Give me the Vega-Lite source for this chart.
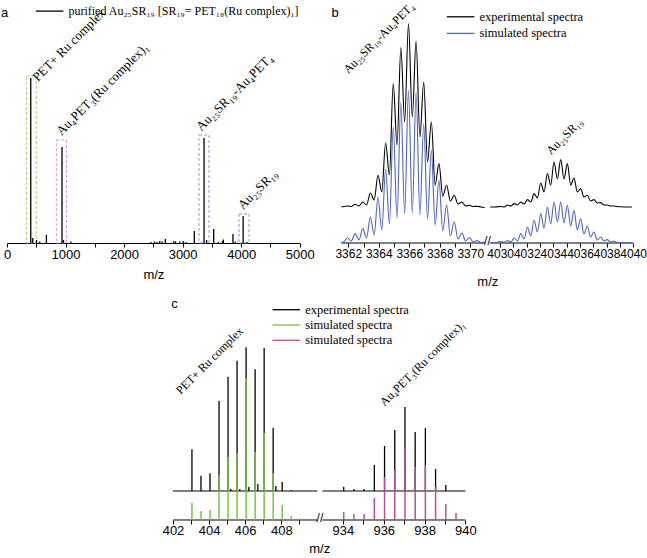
{
"$schema": "https://vega.github.io/schema/vega-lite/v6.json",
"background": "white",
"padding": {"left": 1, "top": 0, "right": 0, "bottom": 0},
"datasets": {
"aSpikes": [
{"mz":406,"h":165},{"mz":440,"h":5},{"mz":505,"h":3},{"mz":560,"h":1.5},{"mz":673,"h":8},{"mz":940,"h":96},{"mz":965,"h":3},{"mz":1090,"h":1.5},
{"mz":2460,"h":1},{"mz":2520,"h":1.5},{"mz":2565,"h":1},{"mz":2610,"h":2},{"mz":2650,"h":1.5},{"mz":2705,"h":4},{"mz":2850,"h":2},{"mz":2880,"h":1.5},{"mz":2950,"h":1.5},{"mz":3010,"h":2},{"mz":3060,"h":1},
{"mz":3200,"h":12},{"mz":3366,"h":105},{"mz":3410,"h":3},{"mz":3531,"h":14},{"mz":3610,"h":1},{"mz":3680,"h":2},{"mz":3696,"h":3.5},{"mz":3860,"h":9},{"mz":3900,"h":1.5},{"mz":4034,"h":27},{"mz":4100,"h":1}
],
"aBoxes": [
{"box":"green","start":330,"end":500,"top":167},
{"box":"pink","start":843,"end":1015,"top":103},
{"box":"blue","start":3280,"end":3450,"top":108},
{"box":"blue","start":3963,"end":4134,"top":29}
],
"aLabels": [
{"mz":524,"h":161,"label":"PET+ Ru complex"},
{"mz":929,"h":107,"label":"Au₄PET₃(Ru complex)₁"},
{"mz":3320,"h":111.5,"label":"Au₂₅SR₁₉-Au₄PET₄"},
{"mz":4031,"h":33,"label":"Au₂₅SR₁₉"}
],
"bExp": [
{"g":"L","x":3361.55,"y":36},{"g":"L","x":3361.7,"y":36.5},{"g":"L","x":3361.95,"y":37},{"g":"L","x":3362.2,"y":36.5},{"g":"L","x":3362.45,"y":38.7},{"g":"L","x":3362.7,"y":37},{"g":"L","x":3362.95,"y":41},{"g":"L","x":3363.2,"y":38},{"g":"L","x":3363.45,"y":50},{"g":"L","x":3363.7,"y":43},{"g":"L","x":3363.95,"y":67.7},{"g":"L","x":3364.2,"y":51},{"g":"L","x":3364.45,"y":100},{"g":"L","x":3364.7,"y":68},{"g":"L","x":3364.95,"y":159.4},{"g":"L","x":3365.2,"y":98},{"g":"L","x":3365.45,"y":195.4},{"g":"L","x":3365.7,"y":121},{"g":"L","x":3365.95,"y":219.4},{"g":"L","x":3366.2,"y":126},{"g":"L","x":3366.45,"y":202},{"g":"L","x":3366.7,"y":106},{"g":"L","x":3366.95,"y":161},{"g":"L","x":3367.2,"y":81},{"g":"L","x":3367.45,"y":121},{"g":"L","x":3367.7,"y":58},{"g":"L","x":3367.95,"y":79.4},{"g":"L","x":3368.2,"y":47},{"g":"L","x":3368.45,"y":57.7},{"g":"L","x":3368.7,"y":42},{"g":"L","x":3368.95,"y":47.7},{"g":"L","x":3369.2,"y":39},{"g":"L","x":3369.45,"y":41},{"g":"L","x":3369.7,"y":37},{"g":"L","x":3369.95,"y":37.7},{"g":"L","x":3370.2,"y":36.5},{"g":"L","x":3370.45,"y":36.8},{"g":"L","x":3370.7,"y":36},{"g":"L","x":3370.95,"y":35.5},
{"g":"R","x":4029.25,"y":36},{"g":"R","x":4029.5,"y":36},{"g":"R","x":4029.8,"y":36.3},{"g":"R","x":4030.05,"y":36.5},{"g":"R","x":4030.3,"y":36},{"g":"R","x":4030.55,"y":38},{"g":"R","x":4030.8,"y":37},{"g":"R","x":4031.05,"y":39.4},{"g":"R","x":4031.3,"y":38},{"g":"R","x":4031.55,"y":41},{"g":"R","x":4031.8,"y":39},{"g":"R","x":4032.05,"y":43.4},{"g":"R","x":4032.3,"y":41},{"g":"R","x":4032.55,"y":49.4},{"g":"R","x":4032.8,"y":45},{"g":"R","x":4033.05,"y":60},{"g":"R","x":4033.3,"y":51},{"g":"R","x":4033.55,"y":69.4},{"g":"R","x":4033.8,"y":58},{"g":"R","x":4034.05,"y":81},{"g":"R","x":4034.3,"y":64},{"g":"R","x":4034.55,"y":83.4},{"g":"R","x":4034.8,"y":64},{"g":"R","x":4035.05,"y":79.4},{"g":"R","x":4035.3,"y":58},{"g":"R","x":4035.55,"y":65},{"g":"R","x":4035.8,"y":51},{"g":"R","x":4036.05,"y":54.4},{"g":"R","x":4036.3,"y":46},{"g":"R","x":4036.55,"y":47.7},{"g":"R","x":4036.8,"y":42},{"g":"R","x":4037.05,"y":43.4},{"g":"R","x":4037.3,"y":40},{"g":"R","x":4037.55,"y":40.4},{"g":"R","x":4037.8,"y":38},{"g":"R","x":4038.05,"y":38},{"g":"R","x":4038.3,"y":37},{"g":"R","x":4038.55,"y":37},{"g":"R","x":4038.8,"y":36.5},{"g":"R","x":4039.1,"y":36.2},{"g":"R","x":4039.5,"y":36},{"g":"R","x":4039.9,"y":36}
],
"bSim": [
{"g":"L","x":3361.55,"y":0.5},{"g":"L","x":3361.7,"y":1},{"g":"L","x":3361.95,"y":5},{"g":"L","x":3362.2,"y":2},{"g":"L","x":3362.45,"y":9.4},{"g":"L","x":3362.7,"y":3},{"g":"L","x":3362.95,"y":14.4},{"g":"L","x":3363.2,"y":5},{"g":"L","x":3363.45,"y":26},{"g":"L","x":3363.7,"y":8},{"g":"L","x":3363.95,"y":46},{"g":"L","x":3364.2,"y":13},{"g":"L","x":3364.45,"y":74},{"g":"L","x":3364.7,"y":19},{"g":"L","x":3364.95,"y":116},{"g":"L","x":3365.2,"y":25},{"g":"L","x":3365.45,"y":141},{"g":"L","x":3365.7,"y":29},{"g":"L","x":3365.95,"y":153},{"g":"L","x":3366.2,"y":30},{"g":"L","x":3366.45,"y":151},{"g":"L","x":3366.7,"y":28},{"g":"L","x":3366.95,"y":119},{"g":"L","x":3367.2,"y":24},{"g":"L","x":3367.45,"y":93},{"g":"L","x":3367.7,"y":18},{"g":"L","x":3367.95,"y":63},{"g":"L","x":3368.2,"y":12},{"g":"L","x":3368.45,"y":38},{"g":"L","x":3368.7,"y":7},{"g":"L","x":3368.95,"y":21},{"g":"L","x":3369.2,"y":4},{"g":"L","x":3369.45,"y":10},{"g":"L","x":3369.7,"y":2},{"g":"L","x":3369.95,"y":5.5},{"g":"L","x":3370.2,"y":1},{"g":"L","x":3370.45,"y":2.5},{"g":"L","x":3370.7,"y":0.5},{"g":"L","x":3370.95,"y":1},
{"g":"R","x":4029.25,"y":0.5},{"g":"R","x":4029.55,"y":0.5},{"g":"R","x":4029.8,"y":0.8},{"g":"R","x":4030.05,"y":1.5},{"g":"R","x":4030.3,"y":0.8},{"g":"R","x":4030.55,"y":2.5},{"g":"R","x":4030.8,"y":1},{"g":"R","x":4031.05,"y":5},{"g":"R","x":4031.3,"y":2},{"g":"R","x":4031.55,"y":9.4},{"g":"R","x":4031.8,"y":4},{"g":"R","x":4032.05,"y":16},{"g":"R","x":4032.3,"y":7},{"g":"R","x":4032.55,"y":22.7},{"g":"R","x":4032.8,"y":11},{"g":"R","x":4033.05,"y":29.4},{"g":"R","x":4033.3,"y":15},{"g":"R","x":4033.55,"y":36},{"g":"R","x":4033.8,"y":19},{"g":"R","x":4034.05,"y":41},{"g":"R","x":4034.3,"y":21},{"g":"R","x":4034.55,"y":41},{"g":"R","x":4034.8,"y":20},{"g":"R","x":4035.05,"y":37.7},{"g":"R","x":4035.3,"y":17},{"g":"R","x":4035.55,"y":32.7},{"g":"R","x":4035.8,"y":13},{"g":"R","x":4036.05,"y":24.4},{"g":"R","x":4036.3,"y":9},{"g":"R","x":4036.55,"y":16.7},{"g":"R","x":4036.8,"y":6},{"g":"R","x":4037.05,"y":11},{"g":"R","x":4037.3,"y":3},{"g":"R","x":4037.55,"y":6},{"g":"R","x":4037.8,"y":2},{"g":"R","x":4038.05,"y":3.4},{"g":"R","x":4038.3,"y":1},{"g":"R","x":4038.55,"y":2},{"g":"R","x":4038.8,"y":0.5},{"g":"R","x":4039.2,"y":0.5},{"g":"R","x":4039.6,"y":0.3},{"g":"R","x":4040,"y":0.3}
],
"bSegs": [{"start":3361.55,"end":3370.95},{"start":4029.25,"end":4040}],
"bBreak": [{"x":3700,"mark":"//"}],
"bLabels": [
{"mz":3362.0,"h":169,"label":"Au₂₅SR₁₉-Au₄PET₄"},
{"mz":4033.82,"h":87.7,"label":"Au₂₅SR₁₉"}
],
"cExp": [
{"mz":403.05,"h":70.7},{"mz":403.55,"h":44.3},{"mz":404.05,"h":46.7},{"mz":404.55,"h":119.3},{"mz":405.05,"h":143.3},{"mz":405.55,"h":159.3},{"mz":406.05,"h":172.7},{"mz":406.55,"h":150.7},{"mz":407.05,"h":172},{"mz":407.55,"h":92.3},{"mz":408.05,"h":38},
{"mz":405.2,"h":31},{"mz":405.7,"h":31},{"mz":406.2,"h":33},{"mz":406.7,"h":36},{"mz":407.7,"h":34},{"mz":408.55,"h":30},
{"mz":934.04,"h":33.3},{"mz":934.54,"h":31},{"mz":935.04,"h":31},{"mz":935.54,"h":55},{"mz":936.04,"h":74},{"mz":936.54,"h":90},{"mz":937.04,"h":113},{"mz":937.54,"h":88},{"mz":938.04,"h":92},{"mz":938.54,"h":51},{"mz":939.04,"h":35}
],
"cGreen": [
{"mz":403.05,"h":17.3},{"mz":403.55,"h":9},{"mz":404.05,"h":10},{"mz":404.55,"h":45},{"mz":405.05,"h":63},{"mz":405.55,"h":67},{"mz":406.05,"h":141.7},{"mz":406.55,"h":68},{"mz":407.05,"h":87},{"mz":407.55,"h":47},{"mz":408.05,"h":15},{"mz":408.55,"h":4},{"mz":409.05,"h":1.5}
],
"cPink": [
{"mz":934.04,"h":8},{"mz":934.54,"h":6},{"mz":935.04,"h":6},{"mz":935.54,"h":22},{"mz":936.04,"h":43},{"mz":936.54,"h":50},{"mz":937.04,"h":72},{"mz":937.54,"h":53},{"mz":938.04,"h":55},{"mz":938.54,"h":33},{"mz":939.04,"h":16},{"mz":939.54,"h":7}
],
"cSegs": [{"start":402,"end":410},{"start":933,"end":940}],
"cBreak": [{"x":671,"mark":"//"}],
"cLabels": [
{"mz":402.43,"h":125,"label":"PET+ Ru complex"},
{"mz":936.04,"h":113.3,"label":"Au₄PET₃(Ru complex)₁"}
],
"one": [{}]
},
"config": {
"view": {"stroke": null},
"font": "Liberation Sans",
"axis": {"labelFont": "Liberation Sans", "labelFontSize": 13, "labelColor": "black", "titleFont": "Liberation Sans", "titleFontSize": 13, "titleFontWeight": "normal", "titleColor": "black", "tickColor": "black", "domainColor": "black", "grid": false, "labelOverlap": false, "labelFlush": false, "tickSize": 4, "labelPadding": 1, "orient": "bottom", "tickCount": 40},
"legend": {"labelFont": "Liberation Serif", "labelFontSize": 12.5, "labelColor": "black", "labelLimit": 400, "symbolType": "M-3,0H1", "symbolSize": 190, "symbolStrokeWidth": 1.3, "padding": 0, "rowPadding": 3, "labelOffset": 4, "orient": "none"}
},
"vconcat": [
{
"width": 626.2, "height": 221,
"layer": [
{
"layer": [
{"data": {"name": "aBoxes"}, "mark": {"type": "rect", "fillOpacity": 0, "strokeDash": [3, 2], "strokeWidth": 1},
 "encoding": {
  "x": {"field": "start", "type": "quantitative", "scale": {"domain": [0, 5000], "range": [0, 292.7], "nice": false, "zero": false},
        "axis": {"orient": "bottom", "values": [0,500,1000,1500,2000,2500,3000,3500,4000,4500,5000], "format": "d", "labelExpr": "datum.value % 1000 == 0 ? datum.label : ''", "title": "m/z", "titlePadding": 8}},
  "x2": {"field": "end"},
  "y": {"field": "top", "type": "quantitative", "scale": {"domain": [0, 221], "nice": false}, "axis": null},
  "y2": {"datum": 0},
  "stroke": {"field": "box", "type": "nominal", "scale": {"domain": ["green", "pink", "blue"], "range": ["#9ed46b", "#d894d6", "#8c96d6"]}, "legend": null}
 }},
{"data": {"name": "aSpikes"}, "mark": {"type": "rule", "strokeWidth": 1.3},
 "encoding": {
  "x": {"field": "mz", "type": "quantitative"},
  "y": {"field": "h", "type": "quantitative"},
  "y2": {"datum": 0},
  "color": {"datum": "purified Au₂₅SR₁₉ [SR₁₉= PET₁₈(Ru complex)₁]", "type": "nominal", "scale": {"range": ["black"]},
            "legend": {"title": null, "legendX": 41.5, "legendY": -18.9, "labelFontSize": 12}}
 }},
{"data": {"name": "aLabels"}, "mark": {"type": "text", "angle": 315, "align": "left", "baseline": "alphabetic", "font": "Liberation Serif", "fontSize": 13, "color": "black"},
 "encoding": {"x": {"field": "mz", "type": "quantitative"}, "y": {"field": "h", "type": "quantitative"}, "text": {"field": "label", "type": "nominal"}}},
{"data": {"name": "one"}, "mark": {"type": "text", "align": "left", "baseline": "alphabetic", "font": "Liberation Sans", "fontSize": 13, "color": "black", "text": "a"},
 "encoding": {"x": {"datum": -102, "type": "quantitative"}, "y": {"datum": 226, "type": "quantitative"}}}
]
},
{
"layer": [
{"data": {"name": "bSegs"}, "mark": {"type": "rule", "color": "black", "strokeWidth": 1},
 "encoding": {
  "x": {"field": "start", "type": "quantitative", "scale": {"domain": [3361.55, 3370.95, 4029.25, 4040], "range": [334.4, 477.7, 483.2, 626.2], "nice": false, "zero": false},
        "axis": {"orient": "bottom", "values": [3362,3363,3364,3365,3366,3367,3368,3369,3370,4030,4031,4032,4033,4034,4035,4036,4037,4038,4039,4040], "tickCount": 40, "labelFontSize": 12, "format": "d", "labelExpr": "datum.value % 2 == 0 ? datum.label : ''", "domain": false, "title": "m/z", "titlePadding": 17}},
  "x2": {"field": "end"},
  "y": {"datum": 0, "type": "quantitative", "scale": {"domain": [0, 221], "nice": false}, "axis": null}
 }},
{"data": {"name": "bExp"}, "mark": {"type": "line", "interpolate": "monotone", "strokeWidth": 1.1},
 "encoding": {
  "x": {"field": "x", "type": "quantitative"},
  "y": {"field": "y", "type": "quantitative"},
  "detail": {"field": "g", "type": "nominal"},
  "color": {"datum": "exp", "type": "nominal", "scale": {"domain": ["exp", "sim"], "range": ["black", "#4f63c2"]},
            "legend": {"title": null, "legendX": 452.5, "legendY": -13.2, "rowPadding": 1.6, "labelExpr": "datum.value == 'exp' ? 'experimental spectra' : 'simulated spectra'"}}
 }},
{"data": {"name": "bSim"}, "mark": {"type": "line", "interpolate": "monotone", "strokeWidth": 1.1},
 "encoding": {
  "x": {"field": "x", "type": "quantitative"},
  "y": {"field": "y", "type": "quantitative"},
  "detail": {"field": "g", "type": "nominal"},
  "color": {"datum": "sim", "type": "nominal"}
 }},
{"data": {"name": "bBreak"}, "mark": {"type": "text", "font": "Liberation Sans", "fontSize": 12, "align": "center", "baseline": "middle", "dy": -2, "color": "black"},
 "encoding": {"x": {"field": "x", "type": "quantitative"}, "y": {"datum": 0, "type": "quantitative"}, "text": {"field": "mark", "type": "nominal"}}},
{"data": {"name": "bLabels"}, "mark": {"type": "text", "angle": 315, "align": "left", "baseline": "alphabetic", "font": "Liberation Serif", "fontSize": 12, "color": "black"},
 "encoding": {"x": {"field": "mz", "type": "quantitative"}, "y": {"field": "h", "type": "quantitative"}, "text": {"field": "label", "type": "nominal"}}},
{"data": {"name": "one"}, "mark": {"type": "text", "align": "left", "baseline": "alphabetic", "font": "Liberation Sans", "fontSize": 13, "color": "black", "text": "b"},
 "encoding": {"x": {"datum": 3360.9, "type": "quantitative"}, "y": {"datum": 226, "type": "quantitative"}}}
]
}
],
"resolve": {"scale": {"x": "independent", "color": "independent", "stroke": "independent"}, "axis": {"x": "independent"}, "legend": {"color": "independent"}}
},
{
"width": 626.2, "height": 224,
"layer": [
{"data": {"name": "cSegs"}, "mark": {"type": "rule", "color": "black", "strokeWidth": 1},
 "encoding": {
  "x": {"field": "start", "type": "quantitative", "scale": {"domain": [402, 410, 933, 940], "range": [166, 310.4, 315.5, 458.4], "nice": false, "zero": false},
        "axis": {"values": [402,403,404,405,406,407,408,409,934,935,936,937,938,939,940], "format": "d", "labelExpr": "datum.value % 2 == 0 ? datum.label : ''", "domain": false, "title": "m/z", "titlePadding": 5}},
  "x2": {"field": "end"},
  "y": {"datum": 0, "type": "quantitative", "scale": {"domain": [0, 224], "nice": false}, "axis": null}
 }},
{"data": {"name": "cSegs"}, "mark": {"type": "rule", "color": "black", "strokeWidth": 1},
 "encoding": {"x": {"field": "start", "type": "quantitative"}, "x2": {"field": "end"}, "y": {"datum": 29, "type": "quantitative"}}},
{"data": {"name": "cExp"}, "mark": {"type": "rule", "strokeWidth": 1.3},
 "encoding": {
  "x": {"field": "mz", "type": "quantitative"},
  "y": {"field": "h", "type": "quantitative"},
  "y2": {"datum": 29},
  "color": {"datum": "exp", "type": "nominal", "scale": {"domain": ["exp", "simG", "simP"], "range": ["black", "#7cc243", "#b4509e"]},
            "legend": {"title": null, "legendX": 278.2, "legendY": 5.7, "rowPadding": 0.3, "labelExpr": "datum.value == 'exp' ? 'experimental spectra' : 'simulated spectra'"}}
 }},
{"data": {"name": "cGreen"}, "mark": {"type": "rule", "strokeWidth": 1.5},
 "encoding": {"x": {"field": "mz", "type": "quantitative"}, "y": {"field": "h", "type": "quantitative"}, "y2": {"datum": 0}, "color": {"datum": "simG", "type": "nominal"}}},
{"data": {"name": "cPink"}, "mark": {"type": "rule", "strokeWidth": 1.5},
 "encoding": {"x": {"field": "mz", "type": "quantitative"}, "y": {"field": "h", "type": "quantitative"}, "y2": {"datum": 0}, "color": {"datum": "simP", "type": "nominal"}}},
{"data": {"name": "cBreak"}, "mark": {"type": "text", "font": "Liberation Sans", "fontSize": 12, "align": "center", "baseline": "middle", "dy": -2, "color": "black"},
 "encoding": {"x": {"field": "x", "type": "quantitative"}, "y": {"datum": 0, "type": "quantitative"}, "text": {"field": "mark", "type": "nominal"}}},
{"data": {"name": "cLabels"}, "mark": {"type": "text", "angle": 315, "align": "left", "baseline": "alphabetic", "font": "Liberation Serif", "fontSize": 12, "color": "black"},
 "encoding": {"x": {"field": "mz", "type": "quantitative"}, "y": {"field": "h", "type": "quantitative"}, "text": {"field": "label", "type": "nominal"}}},
{"data": {"name": "one"}, "mark": {"type": "text", "align": "left", "baseline": "alphabetic", "font": "Liberation Sans", "fontSize": 13, "color": "black", "text": "c"},
 "encoding": {"x": {"datum": 401.91, "type": "quantitative"}, "y": {"datum": 212, "type": "quantitative"}}}
]
}
],
"spacing": 53,
"bounds": "flush",
"resolve": {"scale": {"x": "independent", "y": "independent", "color": "independent", "stroke": "independent"}, "axis": {"x": "independent"}, "legend": {"color": "independent"}}
}
